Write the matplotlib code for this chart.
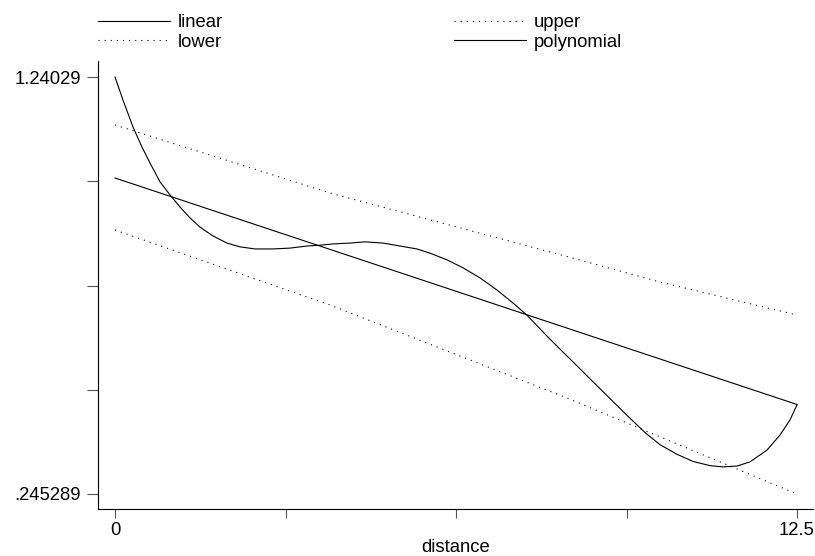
import matplotlib
matplotlib.use("Agg")
import matplotlib.pyplot as plt
from matplotlib import font_manager

names = set(f.name for f in font_manager.fontManager.ttflist)
fam = "Liberation Sans" if "Liberation Sans" in names else "DejaVu Sans"
plt.rcParams["font.family"] = fam

# data
lin_x = [0, 12.5]
lin_y = [0.9993, 0.4589]

up_x = [0, 3.941, 8.523, 9.989, 12.5]
up_y = [1.1258, 0.9635, 0.8036, 0.7511, 0.6724]

lo_x = [0, 3.941, 8.284, 12.5]
lo_y = [0.8752, 0.6963, 0.4744, 0.245289]

poly_x = [0, 0.147, 0.330, 0.495, 0.642, 0.825, 1.008, 1.191, 1.375, 1.558,
          1.796, 2.053, 2.291, 2.566, 2.896, 3.207, 3.519, 3.757, 3.996,
          4.307, 4.582, 4.912, 5.224, 5.535, 5.773, 6.085, 6.378, 6.690,
          7.001, 7.295, 7.551, 7.918, 8.211, 8.468, 8.761, 9.073, 9.384,
          9.714, 9.989, 10.301, 10.594, 10.905, 11.144, 11.400, 11.639,
          11.950, 12.188, 12.372, 12.5]
poly_y = [1.24029, 1.185, 1.121, 1.073, 1.035, 0.990, 0.959, 0.930, 0.904, 0.882,
          0.861, 0.844, 0.835, 0.830, 0.830, 0.832, 0.837, 0.839, 0.842,
          0.844, 0.847, 0.844, 0.837, 0.830, 0.820, 0.804, 0.785, 0.761,
          0.732, 0.701, 0.672, 0.622, 0.584, 0.551, 0.513, 0.473, 0.433,
          0.392, 0.363, 0.340, 0.323, 0.313, 0.310, 0.312, 0.322,
          0.350, 0.386, 0.422, 0.458]

ymin, ymax = 0.245289, 1.24029
yticks = [ymin + i * (ymax - ymin) / 4 for i in range(5)]
ylabels = [".245289", "", "", "", "1.24029"]
xticks = [0, 3.125, 6.25, 9.375, 12.5]
xlabels = ["0", "", "", "", "12.5"]

W, H = 815, 556
fs = 13.3
fig = plt.figure(figsize=(W / 100, H / 100), dpi=100)
ax = fig.add_axes([98 / W, (H - 509) / H, (813 - 98) / W, (509 - 61) / H])

dots = (0, (1, 4.5))
l1, = ax.plot(lin_x, lin_y, color="black", lw=0.8, label="linear")
l2, = ax.plot(up_x, up_y, color="black", lw=0.8, ls=dots, label="upper")
l3, = ax.plot(lo_x, lo_y, color="black", lw=0.8, ls=dots, label="lower")
l4, = ax.plot(poly_x, poly_y, color="black", lw=0.8, label="polynomial")

px = 12.5 / 682
py = (ymax - ymin) / 417
ax.set_xlim(-17 * px, 12.5 + 16 * px)
ax.set_ylim(ymin - 15 * py, ymax + 16 * py)

ax.set_xticks(xticks)
ax.set_xticklabels(xlabels)
ax.set_yticks(yticks)
ax.set_yticklabels(ylabels)
ax.tick_params(axis="both", direction="out", width=0.8,
               color="#555555", labelsize=fs)
ax.tick_params(axis="x", length=6.5, pad=3)
ax.tick_params(axis="y", length=8.2, pad=4.3)
for s in ["top", "right"]:
    ax.spines[s].set_visible(False)
for s in ["left", "bottom"]:
    ax.spines[s].set_linewidth(0.8)

ax.set_xlabel("distance", fontsize=fs, va="top")
ax.xaxis.set_label_coords(0.5, (509 - 539) / 448)

fig.legend([l1, l3, l2, l4], ["linear", "lower", "upper", "polynomial"],
           ncol=2, frameon=False, fontsize=fs, loc="upper left",
           bbox_to_anchor=(98 / W, 1 - 14 / H), handlelength=3.9,
           handletextpad=0.43, columnspacing=12.5, labelspacing=0.16,
           borderaxespad=0, borderpad=0)

fig.savefig("out.png", dpi=100)
